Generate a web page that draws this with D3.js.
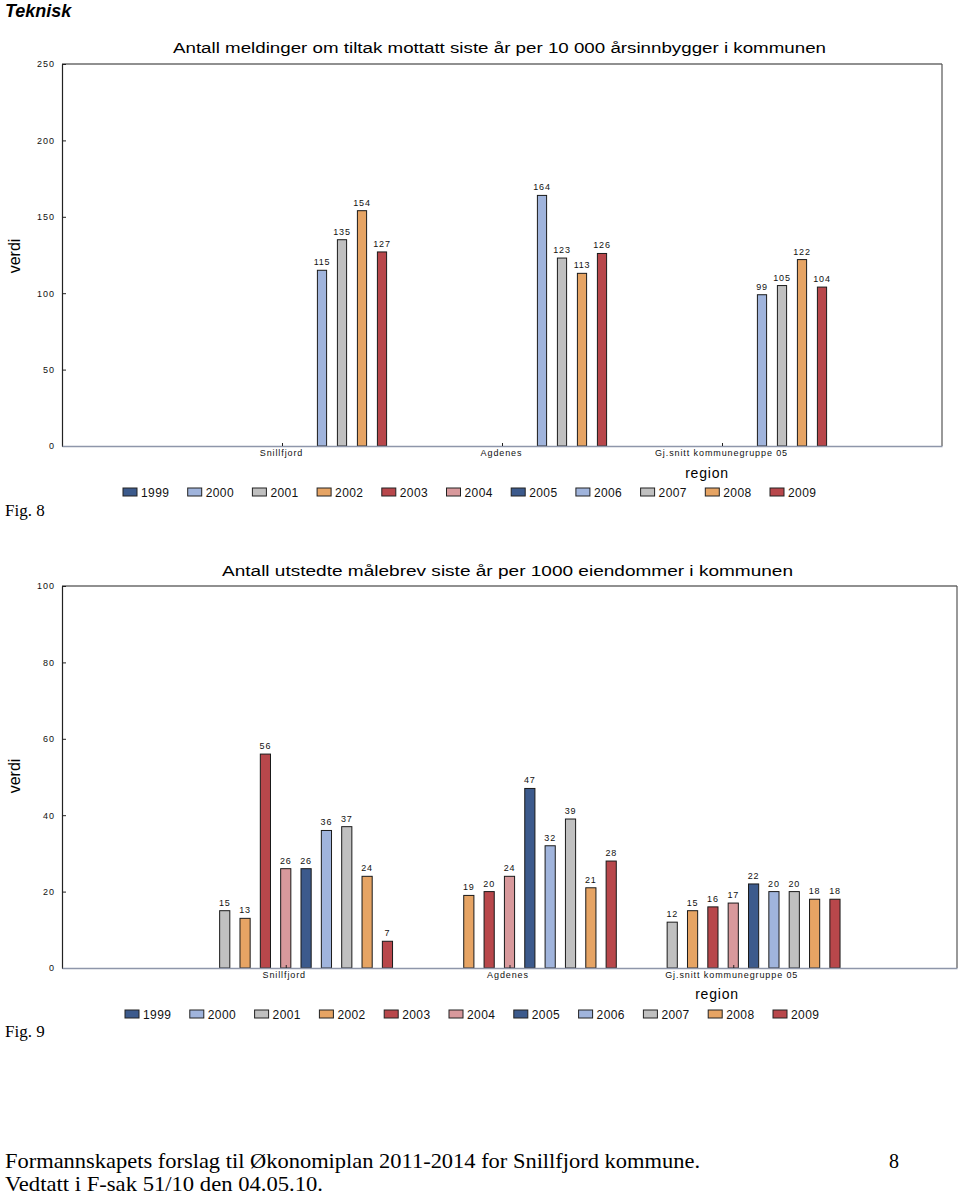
<!DOCTYPE html>
<html>
<head>
<meta charset="utf-8">
<script src="https://cdn.jsdelivr.net/npm/d3@7"></script>
<style>
  html, body { margin: 0; padding: 0; background: #fff; }
  svg { display: block; }
</style>
</head>
<body>
<svg id="page" width="960" height="1196"></svg>
<script>
// ---------- data ----------
const years = ['1999','2000','2001','2002','2003','2004','2005','2006','2007','2008','2009'];
const regions = ['Snillfjord','Agdenes','Gj.snitt kommunegruppe 05'];
const seriesColors = ['#3C5A8C','#A0B4DC','#C0C0C0','#E6A464','#B8474B','#D8999C','#3C5A8C','#A0B4DC','#C0C0C0','#E6A464','#B8474B'];

// Fig. 8 – values per region, one entry per year (null = no bar)
const fig8Snillfjord = [null,115,135,154,127,null,null,null,null,null,null];
const fig8Agdenes    = [null,164,123,113,126,null,null,null,null,null,null];
const fig8Gjsnitt    = [null, 99,105,122,104,null,null,null,null,null,null];
const fig8Ticks = [0,50,100,150,200,250];

// Fig. 9
const fig9Snillfjord = [null,null,15,13,56,26,26,36,37,24,7];
const fig9Agdenes    = [null,null,null,19,20,24,47,32,39,21,28];
const fig9Gjsnitt    = [null,null,12,15,16,17,22,20,20,18,18];
const fig9Ticks = [0,20,40,60,80,100];

const fig8Title = 'Antall meldinger om tiltak mottatt siste år per 10 000 årsinnbygger i kommunen';
const fig9Title = 'Antall utstedte målebrev siste år per 1000 eiendommer i kommunen';

// ---------- drawing ----------
const svg = d3.select('#page');
const sans = "'Liberation Sans', Arial, sans-serif";
const serif = "'Liberation Serif', 'Times New Roman', serif";

svg.append('text').attr('x', 5).attr('y', 17)
  .attr('font-family', sans).attr('font-size', 18).attr('font-weight', 'bold').attr('font-style', 'italic')
  .text('Teknisk');

function drawChart(cfg) {
  const g = svg.append('g');
  const rows = [cfg.s, cfg.a, cfg.g];
  const y = d3.scaleLinear().domain([0, cfg.ticks[cfg.ticks.length - 1]]).range([cfg.bottom, cfg.top]);
  const x0 = d3.scalePoint().domain(regions).range([cfg.left, cfg.right]).padding(1);
  const band = x0.step();
  const x1 = d3.scaleBand().domain(years).range([-band / 2, band / 2]);
  const step = x1.step();
  const bw = step * cfg.barFrac;

  // title
  g.append('text').attr('x', cfg.titleX).attr('y', cfg.titleY)
    .attr('font-family', sans).attr('font-size', 14)
    .attr('textLength', cfg.titleW).attr('lengthAdjust', 'spacingAndGlyphs')
    .text(cfg.title);

  // frame top & right
  g.append('line').attr('x1', cfg.left).attr('x2', cfg.right).attr('y1', cfg.top).attr('y2', cfg.top)
    .attr('stroke', '#222').attr('stroke-width', 1.2);
  g.append('line').attr('x1', cfg.right).attr('x2', cfg.right).attr('y1', cfg.top).attr('y2', cfg.bottom)
    .attr('stroke', '#555').attr('stroke-width', 1.2);

  // bars
  const data = [];
  rows.forEach((vals, ri) => vals.forEach((v, yi) => {
    if (v != null) data.push({ region: regions[ri], year: years[yi], yi, v });
  }));
  const cx = d => x0(d.region) + x1(d.year) + step / 2 + cfg.shift * step;
  g.selectAll('rect.bar').data(data).enter().append('rect')
    .attr('class', 'bar')
    .attr('x', d => cx(d) - bw / 2)
    .attr('y', d => y(d.v))
    .attr('width', bw)
    .attr('height', d => y(0) - y(d.v))
    .attr('fill', d => seriesColors[d.yi])
    .attr('stroke', '#1a1a1a').attr('stroke-width', 1);
  g.selectAll('text.val').data(data).enter().append('text')
    .attr('x', d => cx(d)).attr('y', d => y(d.v) - 5)
    .attr('text-anchor', 'middle').attr('font-family', sans).attr('font-size', 9)
    .attr('letter-spacing', 0.8).attr('fill', '#111')
    .text(d => d.v);

  // y axis
  const ya = g.append('g').attr('transform', `translate(${cfg.left},0)`)
    .call(d3.axisLeft(y).tickValues(cfg.ticks).tickSizeInner(-4).tickSizeOuter(0).tickPadding(7));
  ya.select('.domain').attr('stroke', '#222').attr('stroke-width', 1.2);
  ya.selectAll('.tick line').attr('stroke', '#222');
  ya.selectAll('text').attr('font-family', sans).attr('font-size', 9).attr('letter-spacing', 1)
    .attr('fill', '#111');

  // x axis
  const xa = g.append('g').attr('transform', `translate(0,${cfg.bottom})`)
    .call(d3.axisBottom(x0).tickSizeInner(-3).tickSizeOuter(0).tickPadding(4));
  xa.select('.domain').attr('stroke', '#8E96AA').attr('stroke-width', 1.5);
  xa.selectAll('.tick line').attr('stroke', '#222');
  xa.selectAll('text').attr('font-family', sans).attr('font-size', 9).attr('letter-spacing', 0.9)
    .attr('fill', '#111').attr('dx', cfg.labelDx);

  // axis titles
  g.append('text').attr('transform', `translate(20,${cfg.verdiY}) rotate(-90)`)
    .attr('text-anchor', 'middle').attr('font-family', sans).attr('font-size', 16)
    .text('verdi');
  g.append('text').attr('x', cfg.regionX).attr('y', cfg.regionY)
    .attr('text-anchor', 'middle').attr('font-family', sans).attr('font-size', 14)
    .attr('letter-spacing', 0.8)
    .text('region');

  // legend
  const lg = g.append('g').attr('transform', `translate(${cfg.legendX},${cfg.legendY})`);
  const items = lg.selectAll('g').data(years).enter().append('g')
    .attr('transform', (d, i) => `translate(${i * cfg.legendStep},0)`);
  items.append('rect').attr('x', 0).attr('y', -4).attr('width', 14).attr('height', 8)
    .attr('fill', (d, i) => seriesColors[i]).attr('stroke', '#222').attr('stroke-width', 1);
  items.append('text').attr('x', 18).attr('y', 4.5)
    .attr('font-family', sans).attr('font-size', 12).attr('letter-spacing', 0.4).attr('fill', '#111')
    .text(d => d);

  // figure caption
  svg.append('text').attr('x', 5).attr('y', cfg.figY)
    .attr('font-family', serif).attr('font-size', 17).text(cfg.fig);
}

drawChart({
  s: fig8Snillfjord, a: fig8Agdenes, g: fig8Gjsnitt, ticks: fig8Ticks,
  left: 62, right: 942, top: 64, bottom: 446, shift: 6, barFrac: 0.46,
  title: fig8Title, titleX: 173, titleY: 53, titleW: 653,
  verdiY: 256, regionX: 707, regionY: 478, labelDx: -1,
  legendX: 123, legendY: 492, legendStep: 64.7,
  fig: 'Fig. 8', figY: 516
});

drawChart({
  s: fig9Snillfjord, a: fig9Agdenes, g: fig9Gjsnitt, ticks: fig9Ticks,
  left: 62, right: 957, top: 586, bottom: 968, shift: 0, barFrac: 0.5,
  title: fig9Title, titleX: 222, titleY: 576, titleW: 571,
  verdiY: 776, regionX: 717, regionY: 999, labelDx: -2,
  legendX: 125, legendY: 1014, legendStep: 64.8,
  fig: 'Fig. 9', figY: 1037
});

// footer
svg.append('text').attr('x', 5).attr('y', 1168)
  .attr('font-family', serif).attr('font-size', 21)
  .attr('textLength', 695).attr('lengthAdjust', 'spacingAndGlyphs')
  .text('Formannskapets forslag til Økonomiplan 2011-2014 for Snillfjord kommune.');
svg.append('text').attr('x', 889).attr('y', 1168)
  .attr('font-family', serif).attr('font-size', 21)
  .attr('textLength', 10).attr('lengthAdjust', 'spacingAndGlyphs').text('8');
svg.append('text').attr('x', 5).attr('y', 1191)
  .attr('font-family', serif).attr('font-size', 21)
  .attr('textLength', 318).attr('lengthAdjust', 'spacingAndGlyphs')
  .text('Vedtatt i F-sak 51/10 den 04.05.10.');
</script>
</body>
</html>
